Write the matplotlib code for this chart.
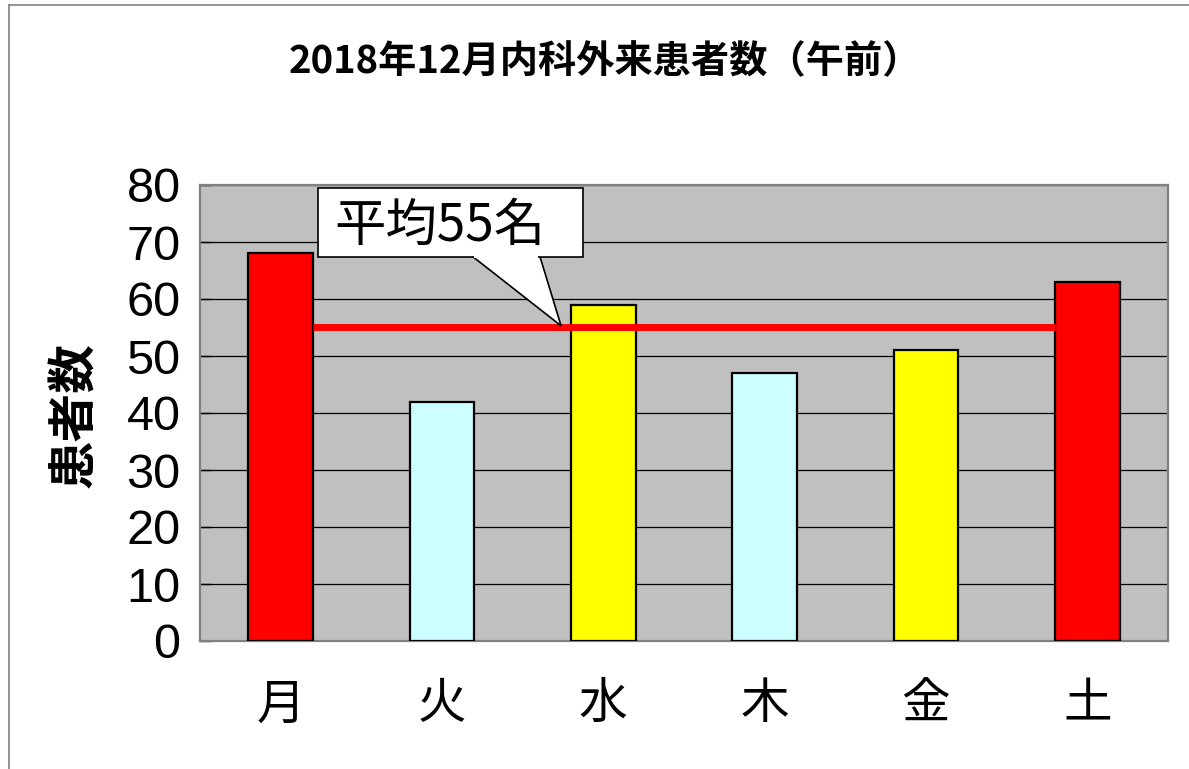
import matplotlib
matplotlib.use("Agg")
import matplotlib.pyplot as plt
from matplotlib.patches import Polygon, Rectangle
from matplotlib.lines import Line2D

plt.rcParams['font.family'] = ['Noto Sans CJK JP', 'DejaVu Sans']

days = ['月', '火', '水', '木', '金', '土']
patients = [68, 42, 59, 47, 51, 63]
bar_colors = ['#FF0000', '#CCFFFF', '#FFFF00', '#CCFFFF', '#FFFF00', '#FF0000']
average = sum(patients) / len(patients)
yticks = [0, 10, 20, 30, 40, 50, 60, 70, 80]
title = '2018年12月内科外来患者数（午前）'
ylabel = '患者数'
callout = f'平均{average:.0f}名'

W, H = 1189, 769
fig = plt.figure(figsize=(W / 100, H / 100), dpi=100)
fig.patch.set_facecolor('white')

# chart-area frame (left and top edges)
fig.add_artist(Line2D([9 / W, 9 / W], [0, 1 - 5 / H], color='#808080', lw=1.2,
                      transform=fig.transFigure))
fig.add_artist(Line2D([9 / W, 1], [1 - 5 / H, 1 - 5 / H], color='#808080', lw=1.2,
                      transform=fig.transFigure))

ax = fig.add_axes([200 / W, 1 - 641 / H, (1168 - 200) / W, (641 - 185) / H])
ax.set_facecolor('#C0C0C0')
x = list(range(len(days)))
bw = 0.4
ax.bar(x, patients, width=bw, color=bar_colors, edgecolor='black', linewidth=1.6, zorder=3)

ax.set_xlim(-0.5, len(days) - 0.5)
ax.set_ylim(0, 80)
ax.set_yticks(yticks)
ax.set_yticklabels([str(v) for v in yticks], family='Liberation Sans', fontsize=35)
ax.set_xticks(x)
ax.set_xticklabels(days, fontsize=35)
ax.tick_params(axis='x', length=0, pad=28)
ax.tick_params(axis='y', direction='in', length=8, width=1, color='black', pad=14)
ax.grid(axis='y', color='black', linewidth=0.9, zorder=1)
ax.set_axisbelow(True)
for s in ax.spines.values():
    s.set_color('#808080')
    s.set_linewidth(1.6)

# average line between the first and last bars
ax.plot([x[0] + bw / 2, x[-1] - bw / 2], [average, average], color='#FF0000',
        lw=5, solid_capstyle='butt', zorder=4)

# callout box with pointer to the average line
bx0, bx1, by0, by1 = 0.23, 1.875, 67.4, 79.5
ax.add_patch(Polygon([(1.19, by0 + 0.05), (1.607, by0 + 0.05), (1.738, average + 0.3)],
                     closed=True, facecolor='white', edgecolor='black', lw=1.2, zorder=5))
ax.add_patch(Rectangle((bx0, by0), bx1 - bx0, by1 - by0, facecolor='white',
                       edgecolor='black', lw=1.2, zorder=5))
ax.add_patch(Rectangle((1.19 + 0.01, by0 - 0.2), 1.607 - 1.19 - 0.02, 0.6,
                       facecolor='white', edgecolor='none', zorder=6))
ax.text(0.33, (by0 + by1) / 2 - 0.6, callout, fontsize=37, va='center', ha='left', zorder=7)

fig.text(75 / W, 1 - 415 / H, ylabel, fontsize=35, fontweight='bold', rotation=90,
         ha='center', va='center')
fig.text(605 / W, 1 - 62 / H, title, fontsize=27.5, fontweight='bold', ha='center', va='center')

fig.savefig('out.png', dpi=100)
